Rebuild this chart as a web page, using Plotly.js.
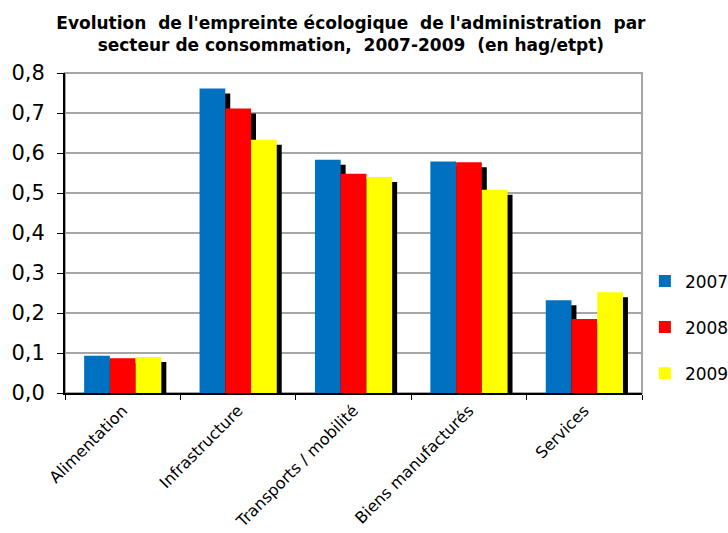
<!DOCTYPE html>
<html>
<head>
<meta charset="utf-8">
<script src="https://cdn.plot.ly/plotly-3.0.1.min.js"></script>
<style>html,body{margin:0;padding:0;background:#fff;}#chart{width:728px;height:533px;}</style>
</head>
<body>
<div id="chart"></div>
<script>
const categories = ["Alimentation", "Infrastructure", "Transports / mobilité", "Biens manufacturés", "Services"];
const years = ["2007", "2008", "2009"];
const values2007 = [0.093, 0.761, 0.583, 0.579, 0.232];
const values2008 = [0.087, 0.711, 0.548, 0.577, 0.185];
const values2009 = [0.090, 0.633, 0.540, 0.508, 0.252];
const colors = ["#0070C0", "#FF0000", "#FFFF00"];

const series = [values2007, values2008, values2009];
const barW = 0.223;
const offsets = [-0.334, -0.111, 0.112];
const shadowDx = 0.043;
const shadowDy = 0.0125;

const traces = [];
// shadows (behind)
series.forEach((vals, i) => {
  traces.push({
    type: "bar", x: categories, y: vals.map(v => v), base: vals.map(() => -shadowDy),
    width: barW, offset: offsets[i] + shadowDx,
    marker: {color: "#000000", line: {width: 0}},
    showlegend: false, hoverinfo: "skip"
  });
});
series.forEach((vals, i) => {
  traces.push({
    type: "bar", name: years[i], x: categories, y: vals,
    width: barW, offset: offsets[i],
    marker: {color: colors[i], line: {width: 0}},
    legendgroup: years[i]
  });
});

const layout = {
  width: 728, height: 533,
  paper_bgcolor: "#ffffff", plot_bgcolor: "#ffffff",
  separators: ", ",
  barmode: "overlay",
  font: {family: "DejaVu Sans, Verdana, sans-serif", color: "#000000"},
  margin: {l: 65, r: 86, t: 73, b: 140, pad: 0, autoexpand: false},
  title: {
    text: "<b>Evolution  de l'empreinte écologique  de l'administration  par<br>secteur de consommation,  2007-2009  (en hag/etpt)</b>",
    font: {size: 17, family: "DejaVu Sans, Verdana, sans-serif"},
    x: 0.482, xanchor: "center", y: 0.946, yanchor: "top"
  },
  xaxis: {
    type: "category", range: [-0.5, 4.5],
    showline: true, linecolor: "#000000", linewidth: 2,
    ticks: "outside", tickson: "boundaries", ticklen: 5, tickcolor: "#000000", tickwidth: 1,
    tickangle: -45, tickfont: {size: 16}, showgrid: false, zeroline: false
  },
  yaxis: {
    range: [0, 0.8], dtick: 0.1, tickformat: ".1f",
    showline: true, linecolor: "#000000", linewidth: 2,
    ticks: "outside", ticklen: 6, tickcolor: "#000000", tickwidth: 1,
    tickfont: {size: 21}, ticklabelstandoff: 8,
    showgrid: true, gridcolor: "#a6a6a6", gridwidth: 2, zeroline: false
  },
  shapes: [{
    type: "rect", xref: "paper", yref: "paper", x0: 0, x1: 1, y0: 0, y1: 1,
    line: {color: "#a6a6a6", width: 2}, layer: "below"
  }],
  legend: {
    x: 1.005, xanchor: "left", y: 0.205, yanchor: "middle",
    font: {size: 17}, tracegroupgap: 21, traceorder: "grouped",
    bgcolor: "rgba(0,0,0,0)"
  },
  showlegend: true
};

Plotly.newPlot("chart", traces, layout, {staticPlot: true, displayModeBar: false});
</script>
</body>
</html>
